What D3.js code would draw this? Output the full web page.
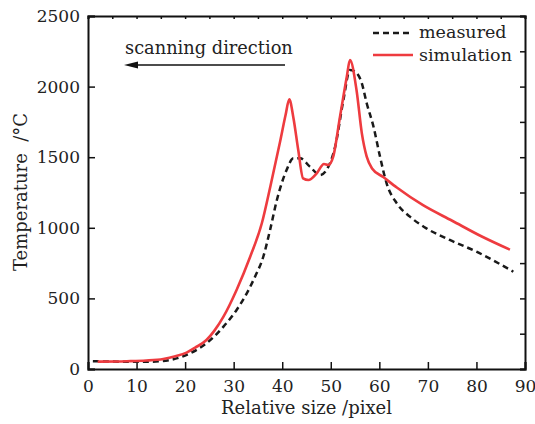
<!DOCTYPE html>
<html>
<head>
<meta charset="utf-8">
<script src="https://cdn.jsdelivr.net/npm/d3@7"></script>
<style>
  body { margin: 0; background: #fff; }
  svg text { font-family: "DejaVu Serif", "Liberation Serif", serif; fill: #222; }
</style>
</head>
<body>
<div id="chart"></div>
<script>
// simulation curve (red)
const simX = [2, 8, 12, 15.5, 18, 20.3, 22, 24.4, 26, 27.9, 30.6, 33.4, 35.8, 37.6, 39.5, 40.7, 41.45, 42.3, 43.3, 44.3, 45.4, 47.1, 48.6, 49.5, 50.5, 51.9, 53.3, 53.95, 55.3, 56.4, 57.4, 58.5, 60.8, 63.6, 69, 75, 81, 86.9];
const simT = [52, 55, 60, 71, 90, 116, 150, 205, 270, 371, 560, 795, 1032, 1300, 1600, 1800, 1910, 1780, 1551, 1350, 1338, 1386, 1452, 1445, 1504, 1787, 2070, 2188, 1976, 1669, 1504, 1420, 1360, 1285, 1160, 1050, 940, 845];

// measured curve (black dashed)
const measX = [1, 8, 13, 16.9, 21, 24.4, 27.9, 30.6, 32.7, 34.4, 36.1, 37.5, 38.9, 40.9, 42.3, 43.7, 45.7, 47.8, 49.5, 50.9, 52.6, 53.95, 55, 56.4, 57.4, 58.8, 60.1, 61.5, 63.6, 66.3, 69.7, 74.5, 80, 87.6];
const measT = [55, 52, 52, 64, 111, 182, 300, 418, 536, 654, 795, 985, 1197, 1409, 1492, 1492, 1433, 1374, 1433, 1574, 1905, 2118, 2106, 2023, 1882, 1716, 1510, 1315, 1173, 1079, 996, 914, 831, 689];

const xTicks = [0, 10, 20, 30, 40, 50, 60, 70, 80, 90];
const yTicks = [0, 500, 1000, 1500, 2000, 2500];

const W = 535, H = 424;
const margin = { top: 16, right: 10, bottom: 55, left: 88 };
const width = W - margin.left - margin.right;
const height = H - margin.top - margin.bottom;

const svg = d3.select("#chart").append("svg")
    .attr("width", W)
    .attr("height", H);

const g = svg.append("g")
    .attr("transform", `translate(${margin.left}, ${margin.top})`);

const x = d3.scaleLinear().domain([0, 90]).range([0, width]);
const y = d3.scaleLinear().domain([0, 2500]).range([height, 0]);

// bottom axis, inward ticks
g.append("g")
    .attr("transform", `translate(0, ${height})`)
    .call(d3.axisBottom(x).tickValues(xTicks).tickSize(-7).tickPadding(11).tickFormat(d3.format("d")));
// left axis
g.append("g")
    .call(d3.axisLeft(y).tickValues(yTicks).tickSize(-7).tickPadding(8).tickFormat(d3.format("d")));
// top axis, small ticks every 5
g.append("g")
    .call(d3.axisTop(x).tickValues(d3.range(0, 91, 5)).tickSize(-3).tickFormat(""));
// right axis, ticks every 250
g.append("g")
    .attr("transform", `translate(${width}, 0)`)
    .call(d3.axisRight(y).tickValues(d3.range(0, 2501, 250)).tickSize(-5).tickFormat(""));

g.selectAll(".domain").attr("stroke", "#111").attr("stroke-width", 2);
g.selectAll(".tick line").attr("stroke", "#111").attr("stroke-width", 1.5);
g.selectAll(".tick text")
    .style("font-family", '"DejaVu Serif", serif')
    .style("font-size", "17px")
    .attr("fill", "#222");

// lines
const toPts = (xs, ys) => xs.map((v, i) => [v, ys[i]]);
const line = d3.line()
    .x(d => x(d[0]))
    .y(d => y(d[1]))
    .curve(d3.curveMonotoneX);

g.append("path")
    .datum(toPts(measX, measT))
    .attr("fill", "none")
    .attr("stroke", "#1a1a1a")
    .attr("stroke-width", 2.5)
    .attr("stroke-dasharray", "6,4")
    .attr("d", line);

g.append("path")
    .datum(toPts(simX, simT))
    .attr("fill", "none")
    .attr("stroke", "#ee3b3f")
    .attr("stroke-width", 2.6)
    .attr("d", line);

// legend
const legend = svg.append("g");
legend.append("line")
    .attr("x1", 373).attr("x2", 413).attr("y1", 33).attr("y2", 33)
    .attr("stroke", "#1a1a1a").attr("stroke-width", 2.5).attr("stroke-dasharray", "6,4");
legend.append("text").attr("x", 419).attr("y", 38).style("font-size", "17.5px").text("measured");
legend.append("line")
    .attr("x1", 373).attr("x2", 413).attr("y1", 55).attr("y2", 55)
    .attr("stroke", "#ee3b3f").attr("stroke-width", 2.6);
legend.append("text").attr("x", 419).attr("y", 61).style("font-size", "17.5px").text("simulation");

// scanning direction annotation
svg.append("text").attr("x", 125).attr("y", 54).style("font-size", "17.8px").text("scanning direction");
svg.append("line")
    .attr("x1", 135).attr("x2", 285).attr("y1", 65).attr("y2", 65)
    .attr("stroke", "#111").attr("stroke-width", 1.5);
svg.append("path")
    .attr("d", "M124,65 L138,61.5 L138,68.5 Z")
    .attr("fill", "#111");

// axis titles
svg.append("text")
    .attr("x", margin.left + width / 2)
    .attr("y", 414)
    .attr("text-anchor", "middle")
    .style("font-size", "18px")
    .text("Relative size /pixel");

svg.append("text")
    .attr("transform", "rotate(-90)")
    .attr("x", -192)
    .attr("y", 27)
    .attr("text-anchor", "middle")
    .style("font-size", "18px")
    .text("Temperature\u00a0\u00a0/°C");
</script>
</body>
</html>
